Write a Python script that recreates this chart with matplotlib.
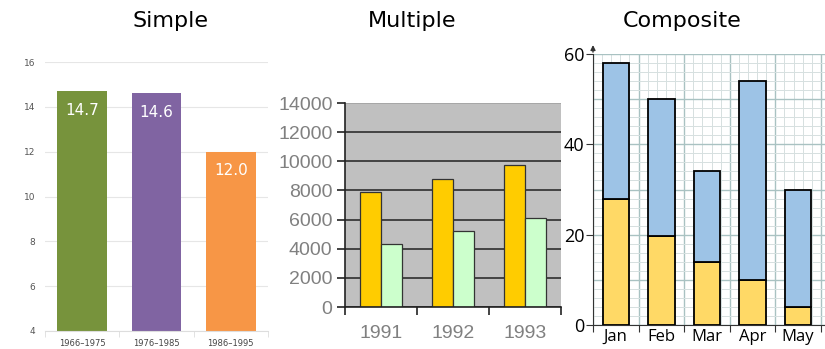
import matplotlib.pyplot as plt
import numpy as np

W, H = 825, 349

# simple bar chart
periods = ["1966–1975", "1976–1985", "1986–1995"]
simple_vals = [14.7, 14.6, 12.0]
simple_colors = ["#77933c", "#8064a2", "#f79646"]

# multiple bar chart
years = ["1991", "1992", "1993"]
series_a = [7900, 8800, 9750]
series_b = [4300, 5200, 6100]

# composite (stacked) bar chart
months = ["Jan", "Feb", "Mar", "Apr", "May"]
lower = [28, 19.6, 14, 10, 4]
totals = [58, 50, 34, 54, 30]
upper = [t - l for t, l in zip(totals, lower)]


def px_axes(fig, left, top, right, bottom):
    return fig.add_axes([left / W, 1 - bottom / H, (right - left) / W, (bottom - top) / H])


fig = plt.figure(figsize=(W / 100, H / 100), dpi=100)
fig.patch.set_facecolor("white")

# ---- Simple ----
ax1 = px_axes(fig, 45, 62, 268, 331)
x1 = np.arange(len(periods))
ax1.bar(x1, simple_vals, width=0.67, color=simple_colors, zorder=2)
for xi, v in zip(x1, simple_vals):
    ax1.text(xi, v - 0.85, f"{v:.1f}", ha="center", va="center", color="white",
             fontsize=11, zorder=3)
ax1.set_ylim(4, 16)
ax1.set_xlim(-0.5, 2.5)
ax1.set_yticks(range(4, 17, 2))
ax1.set_xticks(x1, periods)
ax1.set_xticks(np.arange(-0.5, 3, 1), minor=True)
ax1.tick_params(axis="x", which="major", length=0, labelsize=6, colors="#444", pad=6)
ax1.tick_params(axis="x", which="minor", length=4, color="#ddd")
ax1.tick_params(axis="y", length=0, labelsize=6.5, colors="#555", pad=7)
ax1.grid(axis="y", color="#e6e6e6", lw=0.8, zorder=0)
for s in ["top", "right", "left"]:
    ax1.spines[s].set_visible(False)
ax1.spines["bottom"].set_color("#ddd")

# ---- Multiple ----
ax2 = px_axes(fig, 345, 103, 561, 307)
ax2.set_facecolor("#c0c0c0")
x2 = np.arange(len(years))
bw = 0.29
ax2.bar(x2 - bw / 2, series_a, width=bw, color="#ffcc00", edgecolor="#333", lw=0.9, zorder=2)
ax2.bar(x2 + bw / 2, series_b, width=bw, color="#ccffcc", edgecolor="#333", lw=0.9, zorder=2)
ax2.set_ylim(0, 14000)
ax2.set_xlim(-0.5, 2.45)
ax2.set_yticks(range(0, 14001, 2000))
ax2.grid(axis="y", color="#222", lw=1.1, zorder=1)
ax2.get_ygridlines()[-1].set_color("#a0a0a0")
bounds2 = np.arange(-0.5, 3, 1)
ax2.set_xticks(bounds2, [""] * len(bounds2))
ax2.set_xticks(x2, years, minor=True)
ax2.tick_params(axis="x", which="major", length=6, color="#222", width=1.2)
ax2.tick_params(axis="x", which="minor", length=0, labelsize=14, colors="#808080", pad=13)
ax2.tick_params(axis="y", length=6, color="#222", width=1.2, labelsize=14,
                labelcolor="#808080", pad=3)
for lab in ax2.get_xticklabels(minor=True) + ax2.get_yticklabels():
    lab.set_family("Liberation Sans")
for s in ["top", "right"]:
    ax2.spines[s].set_visible(False)
for s in ["left", "bottom"]:
    ax2.spines[s].set_color("#222")
    ax2.spines[s].set_linewidth(1.2)

# ---- Composite ----
ax3 = px_axes(fig, 593, 54, 830, 325)
x3 = np.arange(len(months))
ax3.bar(x3, lower, width=0.58, color="#ffd966", edgecolor="black", lw=1.3, zorder=3)
ax3.bar(x3, upper, bottom=lower, width=0.58, color="#9dc3e6", edgecolor="black", lw=1.3, zorder=3)
ax3.set_ylim(0, 60)
ax3.set_xlim(-0.5, 4.7)
for gx in np.arange(-0.5, 4.75, 0.2):
    major = abs((gx + 0.5) - round(gx + 0.5)) < 1e-6
    ax3.axvline(gx, color="#a9c2c2" if major else "#d6e0e0", lw=1.0 if major else 0.7, zorder=1)
for gy in np.arange(0, 61, 2):
    major = gy % 10 == 0
    ax3.axhline(gy, color="#a9c2c2" if major else "#d6e0e0", lw=1.0 if major else 0.7, zorder=1)
ax3.set_yticks([0, 20, 40, 60])
bounds3 = np.arange(-0.5, 5, 1)
ax3.set_xticks(bounds3, [""] * len(bounds3))
ax3.set_xticks(x3, months, minor=True)
ax3.tick_params(axis="x", which="major", length=5, color="#333")
ax3.tick_params(axis="x", which="minor", length=0, labelsize=12, pad=3)
ax3.tick_params(axis="y", length=5, color="#333", labelsize=13, pad=1)
for lab in ax3.get_xticklabels(minor=True) + ax3.get_yticklabels():
    lab.set_family("Open Sans")
for s in ["top", "right"]:
    ax3.spines[s].set_visible(False)
ax3.spines["left"].set_color("#333")
ax3.spines["bottom"].set_color("#333")
ax3.annotate("", xy=(-0.5, 62.6), xytext=(-0.5, 59.8),
             arrowprops=dict(arrowstyle="-|>", color="#333", lw=1.0, mutation_scale=7),
             annotation_clip=False)

# panel titles
for title, cx in [("Simple", 170), ("Multiple", 412), ("Composite", 682)]:
    fig.text(cx / W, 1 - 21 / H, title, ha="center", va="center", fontsize=16)

fig.savefig("out.png", dpi=100)
